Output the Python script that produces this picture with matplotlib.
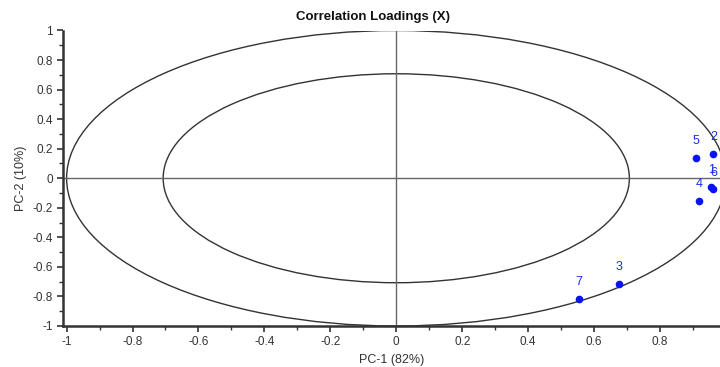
import numpy as np
import matplotlib
matplotlib.use("Agg")
from matplotlib import pyplot as plt
from matplotlib.patches import Ellipse
from matplotlib.ticker import MultipleLocator

plt.rcParams['font.family'] = ['Liberation Sans', 'DejaVu Sans']

# loadings
labels = ['1', '2', '3', '4', '5', '6', '7']
pc1 = [0.955, 0.962, 0.677, 0.918, 0.908, 0.962, 0.553]
pc2 = [-0.060, 0.167, -0.714, -0.153, 0.137, -0.075, -0.818]

fig = plt.figure(figsize=(7.2, 3.67), dpi=100)
ax = fig.add_axes([63.3 / 720, 41 / 367, 656.7 / 720, 295.5 / 367])

# 100% and 50% explained variance ellipses
for r in [1.0, np.sqrt(0.5)]:
    ax.add_patch(Ellipse((0, 0), 2 * r, 2 * r, fill=False, ec='#333333', lw=1.0))

ax.axhline(0, color='#666666', lw=1.0, zorder=1)
ax.plot([0, 0], [-1, 1], color='#666666', lw=1.0, zorder=1)

ax.plot(pc1, pc2, 'o', color='#0a14f0', ms=4.5, zorder=3, clip_on=False)
for lab, x, y in zip(labels, pc1, pc2):
    ax.annotate(lab, (x, y), xytext=(0, 12), textcoords='offset points',
                ha='center', va='center', color='#1a2cf0', fontsize=9)

ax.set_xlim(-1.01, 0.982)
ax.set_ylim(-1.0, 1.0)
ax.xaxis.set_major_locator(MultipleLocator(0.2))
ax.xaxis.set_minor_locator(MultipleLocator(0.1))
ax.yaxis.set_major_locator(MultipleLocator(0.2))
ax.yaxis.set_minor_locator(MultipleLocator(0.1))
fmt = plt.FuncFormatter(lambda v, p: '%g' % round(v, 2) if abs(v) > 1e-9 else '0')
ax.xaxis.set_major_formatter(fmt)
ax.yaxis.set_major_formatter(fmt)

for s in ['top', 'right']:
    ax.spines[s].set_visible(False)
for s in ['left', 'bottom']:
    ax.spines[s].set_linewidth(1.8)
    ax.spines[s].set_color('#333333')
ax.tick_params(which='major', length=4, width=1.2, color='#333333', labelsize=8.5, labelcolor='#333333')
ax.tick_params(which='minor', length=3, width=1.0, color='#333333')

ax.set_xlabel('PC-1 (82%)', fontsize=9, color='#333333', labelpad=4)
ax.set_ylabel('PC-2 (10%)', fontsize=9, color='#333333', labelpad=4)
fig.text(373 / 720, 1 - 17 / 367, 'Correlation Loadings (X)', ha='center', va='center',
         fontsize=9.5, fontweight='bold', color='#111111')

fig.savefig('out.png', dpi=100)
